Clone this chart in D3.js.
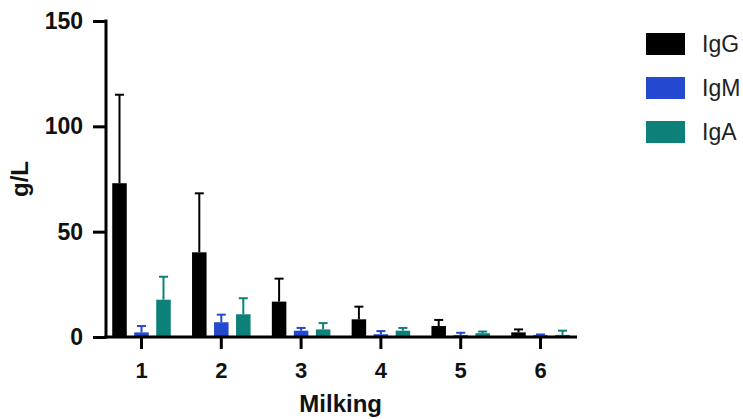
<!DOCTYPE html>
<html>
<head>
<meta charset="utf-8">
<script src="https://cdn.jsdelivr.net/npm/d3@7"></script>
<style>
  body { margin: 0; background: #fff; }
  svg { display: block; font-family: "Liberation Sans", Arial, sans-serif; }
</style>
</head>
<body>
<svg id="chart" width="743" height="419"></svg>
<script>
const categories = ["1", "2", "3", "4", "5", "6"];
const series = ["IgG", "IgM", "IgA"];
const colors = ["#000000", "#2448cf", "#0e807a"];
const igG = [73, 40.2, 16.8, 8.4, 5.2, 2.2];
const igGErr = [42, 28, 10.9, 6.0, 2.9, 1.4];
const igM = [2.2, 7.0, 3.0, 1.3, 0.9, 0.9];
const igMErr = [3.0, 3.6, 1.3, 1.5, 1.1, 0.3];
const igA = [17.7, 10.8, 3.6, 3.0, 1.8, 1.0];
const igAErr = [10.9, 7.6, 3.0, 1.3, 0.8, 2.0];
const yTicks = [0, 50, 100, 150];

const values = [igG, igM, igA];
const errors = [igGErr, igMErr, igAErr];

const svg = d3.select("#chart");

const y = d3.scaleLinear().domain([0, 150]).range([337, 21]);
const x0 = d3.scaleBand().domain(categories).range([101.6, 580.4]).paddingInner(0).paddingOuter(0);
const x1 = d3.scaleBand().domain(series).range([-33, 33]).paddingInner(0.34).paddingOuter(0.17);
const color = d3.scaleOrdinal().domain(series).range(colors);

const data = [];
series.forEach((s, si) => {
  categories.forEach((c, ci) => {
    data.push({ s, c, v: values[si][ci], e: errors[si][ci] });
  });
});

// bars
svg.append("g").selectAll("rect").data(data).join("rect")
  .attr("x", d => x0(d.c) + x0.bandwidth() / 2 + x1(d.s))
  .attr("width", x1.bandwidth())
  .attr("y", d => y(d.v))
  .attr("height", d => y(0) - y(d.v))
  .attr("fill", d => color(d.s));

// error bars (upper only)
const eg = svg.append("g");
data.forEach(d => {
  const cx = x0(d.c) + x0.bandwidth() / 2 + x1(d.s) + x1.bandwidth() / 2;
  const top = y(d.v + d.e);
  eg.append("line").attr("x1", cx).attr("x2", cx).attr("y1", y(d.v)).attr("y2", top)
    .attr("stroke", color(d.s)).attr("stroke-width", 2);
  eg.append("line").attr("x1", cx - 4.5).attr("x2", cx + 4.5).attr("y1", top).attr("y2", top)
    .attr("stroke", color(d.s)).attr("stroke-width", 2);
});

// y axis
const yAxis = svg.append("g").attr("transform", "translate(106,0)")
  .call(d3.axisLeft(y).tickValues(yTicks).tickSize(13).tickSizeOuter(0).tickPadding(10));
yAxis.select(".domain").attr("stroke", "#000").attr("stroke-width", 3)
  .attr("d", `M0,${y(150) - 1.5}V${y(0) + 1.5}`);
yAxis.selectAll(".tick line").attr("stroke", "#000").attr("stroke-width", 3);
yAxis.selectAll(".tick text").attr("font-size", 23).attr("font-weight", "bold").attr("fill", "#111")
  .attr("font-family", "Liberation Sans, Arial, sans-serif");

// x axis
const xAxis = svg.append("g").attr("transform", `translate(0,${y(0)})`)
  .call(d3.axisBottom(x0).tickSize(12).tickSizeOuter(0).tickPadding(13));
xAxis.select(".domain").remove();
xAxis.append("line").attr("x1", 104.5).attr("x2", 577).attr("y1", 0).attr("y2", 0)
  .attr("stroke", "#000").attr("stroke-width", 3);
xAxis.selectAll(".tick line").attr("stroke", "#000").attr("stroke-width", 3);
xAxis.selectAll(".tick text").attr("font-size", 22).attr("font-weight", "bold").attr("fill", "#111")
  .attr("font-family", "Liberation Sans, Arial, sans-serif");

// axis titles
svg.append("text").attr("x", 340.7).attr("y", 411.5).attr("text-anchor", "middle")
  .attr("font-size", 24).attr("font-weight", "bold").attr("fill", "#111").text("Milking");
svg.append("text").attr("transform", "translate(28,179) rotate(-90)").attr("text-anchor", "middle")
  .attr("font-size", 24).attr("font-weight", "bold").attr("fill", "#111").text("g/L");

// legend
const lg = svg.append("g");
series.forEach((s, i) => {
  lg.append("rect").attr("x", 646).attr("y", 33 + i * 44).attr("width", 39).attr("height", 22)
    .attr("fill", color(s));
  lg.append("text").attr("x", 702).attr("y", 52 + i * 44).attr("font-size", 23)
    .attr("fill", "#222").text(s);
});
</script>
</body>
</html>
